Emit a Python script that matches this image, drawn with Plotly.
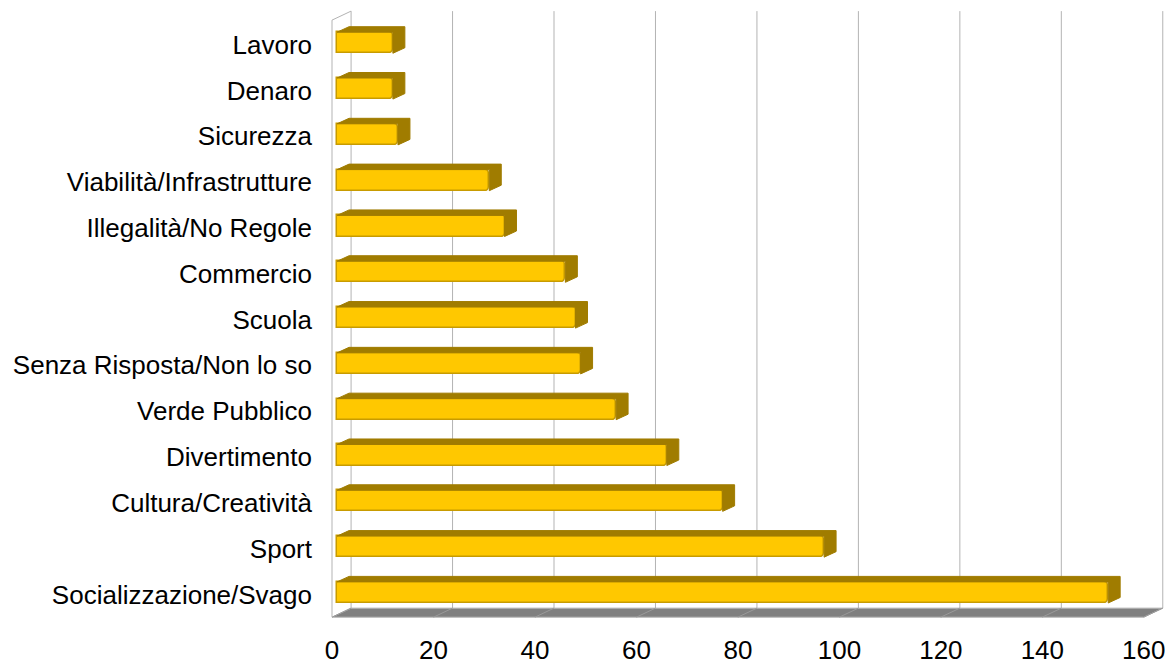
import plotly.graph_objects as go

# ---- data ----
categories = ["Lavoro", "Denaro", "Sicurezza", "Viabilità/Infrastrutture",
              "Illegalità/No Regole", "Commercio", "Scuola",
              "Senza Risposta/Non lo so", "Verde Pubblico", "Divertimento",
              "Cultura/Creatività", "Sport", "Socializzazione/Svago"]
values = [11, 11, 12, 30, 33, 45, 47, 48, 55, 65, 76, 96, 152]
x_ticks = [0, 20, 40, 60, 80, 100, 120, 140, 160]

# ---- 3D look (styles, in axis units) ----
BAR_W = 0.46          # front face thickness (category units)
BAR_DX = 2.36         # bar depth along value axis
BAR_DY = 0.12         # bar depth along category axis
WALL_FRONT_DX = -1.0  # front plane offset
WALL_BACK_DX = 2.76   # back wall offset
FLOOR_FRONT_Y = 12.54
FLOOR_BACK_Y = 12.343
WALL_TOP_Y = -0.69

FRONT = "#FFC800"
SIDE = "#A07C00"
GRID = "#B3B3B3"

pos = list(range(len(categories)))

fig = go.Figure()

# side / top faces (hexagons behind each front face)
sx, sy = [], []
for k, v in zip(pos, values):
    top, bot = k - BAR_W / 2, k + BAR_W / 2
    sx += [0, BAR_DX, v + BAR_DX, v + BAR_DX, v, v, 0, None]
    sy += [top, top - BAR_DY, top - BAR_DY, bot - BAR_DY, bot, top, top, None]
fig.add_trace(go.Scatter(x=sx, y=sy, mode="lines", fill="toself",
                         fillcolor=SIDE, line=dict(color=SIDE, width=1),
                         hoverinfo="skip", showlegend=False))

# front faces
fig.add_trace(go.Bar(x=values, y=pos, orientation="h", width=BAR_W,
                     marker=dict(color=FRONT, line=dict(color="#C89B00", width=1.5),
                                 cornerradius=4),
                     showlegend=False))

shapes = []
# floor
shapes.append(dict(type="path", xref="x", yref="y", layer="below",
                   path=(f"M {WALL_FRONT_DX},{FLOOR_FRONT_Y} "
                         f"L {x_ticks[-1] + WALL_FRONT_DX},{FLOOR_FRONT_Y} "
                         f"L {x_ticks[-1] + WALL_BACK_DX},{FLOOR_BACK_Y} "
                         f"L {WALL_BACK_DX},{FLOOR_BACK_Y} Z"),
                   fillcolor="#808080", line=dict(color=GRID, width=1)))
# back wall grid lines + floor grid lines
for t in x_ticks:
    shapes.append(dict(type="line", xref="x", yref="y", layer="below",
                       x0=t + WALL_BACK_DX, x1=t + WALL_BACK_DX,
                       y0=WALL_TOP_Y, y1=FLOOR_BACK_Y,
                       line=dict(color=GRID, width=1)))
    shapes.append(dict(type="line", xref="x", yref="y", layer="below",
                       x0=t + WALL_FRONT_DX, x1=t + WALL_BACK_DX,
                       y0=FLOOR_FRONT_Y, y1=FLOOR_BACK_Y,
                       line=dict(color="#9A9A9A", width=1)))
# left wall
shapes.append(dict(type="path", xref="x", yref="y", layer="below",
                   path=(f"M {WALL_FRONT_DX},{FLOOR_FRONT_Y} "
                         f"L {WALL_FRONT_DX},{WALL_TOP_Y + (FLOOR_FRONT_Y - FLOOR_BACK_Y)} "
                         f"L {WALL_BACK_DX},{WALL_TOP_Y}"),
                   line=dict(color=GRID, width=1)))

fig.update_layout(
    width=1165, height=664,
    margin=dict(l=331, r=1, t=8, b=45),
    paper_bgcolor="white", plot_bgcolor="white",
    font=dict(family="Liberation Sans, Arial, sans-serif", size=26, color="black"),
    shapes=shapes,
    bargap=0,
)
fig.update_xaxes(range=[-1.2, 163], tickvals=x_ticks, ticktext=[str(t) for t in x_ticks],
                 showgrid=False, zeroline=False, showline=False, ticks="",
                 automargin=False,
                 ticklabelshift=-5, ticklabelstandoff=13, ticklabeloverflow="allow")
fig.update_yaxes(range=[12.58, -0.758], tickvals=pos, ticktext=categories,
                 showgrid=False, zeroline=False, showline=False, ticks="",
                 automargin=False,
                 ticklabelstandoff=18, ticklabelshift=-2)

fig.write_html("out.html", config={"displayModeBar": False},
               post_script="document.body.style.margin='0';")
